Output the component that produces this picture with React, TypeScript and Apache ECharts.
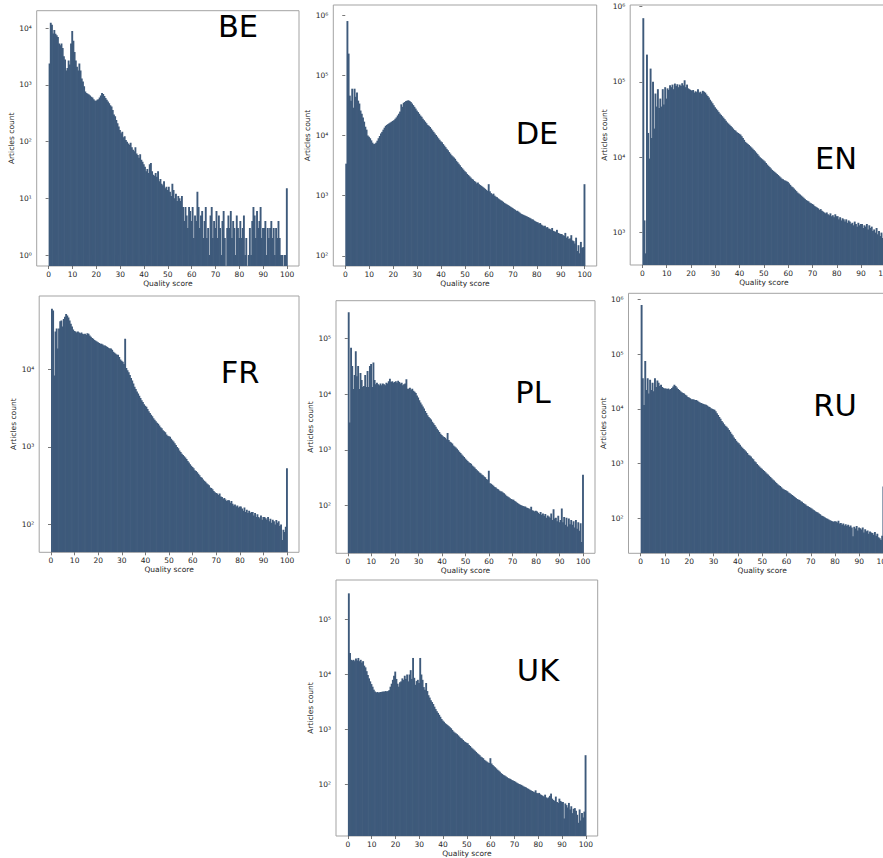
import React, { useEffect, useRef } from "react";
import * as echarts from "echarts";

// ---------- data ----------
const panelNames = ["BE", "DE", "EN", "FR", "PL", "RU", "UK"];
const xTickValues = [0, 10, 20, 30, 40, 50, 60, 70, 80, 90, 100];
const BIN_WIDTH = 0.5; // histogram bins of 0.5 quality points, 0..100

const beYTicks = [1, 10, 100, 1000, 10000];
const deYTicks = [100, 1000, 10000, 100000, 1000000];
const enYTicks = [1000, 10000, 100000, 1000000];
const frYTicks = [100, 1000, 10000];
const plYTicks = [100, 1000, 10000, 100000];
const ruYTicks = [100, 1000, 10000, 100000, 1000000];
const ukYTicks = [100, 1000, 10000, 100000];

const beCounts = [
  2400, 12500, 11500, 8100, 9300, 8000, 7500, 7000, 5400, 5000,
  5400, 4500, 3200, 2800, 1800, 2000, 2700, 2300, 5400, 8900,
  6000, 3800, 2700, 2100, 1800, 2400, 1800, 1300, 1150, 950,
  770, 720, 700, 680, 650, 620, 600, 560, 530, 520,
  550, 560, 600, 650, 720, 690, 640, 590, 550, 510,
  475, 440, 415, 360, 300, 280, 240, 210, 185, 160,
  140, 150, 120, 125, 107, 100, 93, 88, 96, 80,
  72, 68, 80, 62, 58, 52, 60, 48, 44, 40,
  36, 30, 33, 28, 40, 42, 30, 26, 25, 28,
  24, 30, 20, 22, 18, 17, 20, 15, 16, 14,
  16, 13, 11, 18, 14, 10, 12, 9, 11, 10,
  9, 11, 7, 4, 7, 5, 3, 7, 6, 4,
  7, 2, 5, 4, 13, 7, 3, 5, 6, 2,
  4, 7, 2, 3, 1, 5, 7, 2, 4, 3,
  6, 2, 5, 3, 1, 4, 6, 2, 0, 3,
  5, 3, 6, 2, 4, 3, 1, 5, 3, 2,
  4, 2, 3, 5, 1, 2, 0, 1, 3, 1,
  4, 7, 5, 2, 6, 3, 4, 7, 2, 3,
  3, 4, 1, 3, 2, 3, 4, 2, 3, 1,
  3, 2, 4, 2, 1, 1, 0, 1, 1, 15,
];

const deCounts = [
  3400, 800000, 230000, 46000, 38000, 60000, 29000, 60000, 44000, 52000,
  38000, 34000, 26000, 23000, 20000, 17000, 14000, 12500, 10000, 9500,
  9000, 8300, 7600, 7200, 7300, 7600, 8200, 9000, 9800, 10800,
  11500, 12500, 13500, 14500, 15000, 15500, 16000, 16500, 17000, 17500,
  18000, 19000, 20000, 21500, 23000, 25000, 33000, 30000, 35000, 36000,
  37500, 38000, 38500, 37500, 36000, 34000, 32000, 30000, 28000, 26000,
  24500, 23000, 21500, 20500, 19000, 18000, 17000, 16000, 15000, 14500,
  13800, 13000, 12200, 11500, 10800, 10200, 9600, 9000, 8500, 8000,
  7700, 7200, 6800, 6400, 6000, 5700, 5300, 5000, 4700, 4500,
  4300, 4100, 3800, 3600, 3400, 3200, 3000, 2850, 2700, 2550,
  2450, 2300, 2200, 2100, 2000, 1900, 1850, 1750, 1700, 1600,
  1650, 1550, 1500, 1450, 1400, 1350, 1300, 1250, 1200, 1550,
  1180, 1100, 1050, 1080, 1000, 960, 940, 900, 870, 840,
  820, 790, 760, 740, 720, 700, 680, 660, 640, 620,
  600, 580, 560, 560, 540, 520, 500, 490, 480, 470,
  460, 450, 440, 430, 420, 405, 400, 385, 375, 365,
  360, 345, 350, 330, 320, 310, 315, 295, 300, 285,
  280, 270, 290, 260, 255, 250, 270, 240, 235, 230,
  230, 220, 215, 240, 200, 210, 190, 195, 220, 180,
  175, 160, 200, 120, 150, 110, 170, 135, 140, 1550,
];

const enCounts = [
  700000, 1450, 530, 230000, 21000, 9600, 150000, 18000, 100000, 24000,
  70000, 47000, 80000, 45000, 60000, 47000, 80000, 50000, 85000, 60000,
  82000, 78000, 90000, 85000, 92000, 80000, 95000, 88000, 93000, 85000,
  92000, 88000, 96000, 90000, 105000, 85000, 92000, 82000, 80000, 78000,
  76000, 78000, 72000, 75000, 73000, 80000, 72000, 74000, 70000, 76000,
  74000, 72000, 68000, 65000, 62000, 58000, 55000, 52000, 49000, 46000,
  44000, 42000, 40000, 38000, 36500, 35000, 33500, 32000, 30500, 29000,
  28000, 27000, 26000, 25000, 24000, 23000, 22500, 21500, 21000, 20500,
  20000, 19000, 18000, 17000, 16000, 15500, 15000, 14500, 14000, 13500,
  13000, 12500, 12000, 11500, 11000, 10500, 10000, 9700, 9400, 9100,
  8800, 8400, 8000, 7700, 7400, 7100, 6800, 6600, 6400, 6200,
  6000, 5800, 5600, 5400, 5200, 5100, 4950, 4900, 4800, 4700,
  4500, 4300, 4100, 4000, 3850, 3700, 3550, 3400, 3300, 3200,
  3100, 3000, 2900, 2800, 2700, 2650, 2600, 2500, 2450, 2400,
  2350, 2250, 2200, 2150, 2100, 2000, 2050, 1950, 1900, 1850,
  1800, 1850, 1750, 1700, 1800, 1650, 1700, 1600, 1750, 1650,
  1650, 1500, 1600, 1450, 1550, 1500, 1400, 1500, 1350, 1450,
  1400, 1300, 1350, 1250, 1400, 1300, 1200, 1350, 1250, 1300,
  1300, 1150, 1250, 1200, 1300, 1100, 1250, 1150, 1200, 1050,
  1100, 1000, 1150, 950, 1050, 900, 1000, 850, 950, 3000,
];

const frCounts = [
  61000, 58000, 8400, 31000, 34000, 18700, 34000, 42000, 43000, 36000,
  45000, 48000, 52000, 50000, 47000, 43000, 39000, 36000, 33000, 31500,
  31000, 30000, 31000, 30000, 29500, 30000, 29000, 28500, 29000, 28000,
  29500, 29000, 27500, 26500, 25500, 25000, 24000, 23500, 23000, 22500,
  22000, 21500, 21500, 21000, 20500, 20500, 20000, 19500, 19000, 18700,
  18700, 18000, 17000, 16500, 16000, 15500, 15500, 14500, 13500, 13000,
  12600, 11800, 25000, 10500, 9800, 9200, 8500, 7800, 7200, 6600,
  6000, 5600, 5200, 4900, 4600, 4300, 4000, 3800, 3550, 3400,
  3300, 3100, 2900, 2750, 2600, 2500, 2350, 2250, 2150, 2050,
  2000, 1900, 1800, 1750, 1650, 1600, 1550, 1450, 1400, 1380,
  1350, 1280, 1220, 1180, 1120, 1060, 1000, 960, 900, 860,
  820, 790, 760, 730, 700, 660, 630, 600, 570, 550,
  530, 500, 490, 470, 450, 430, 410, 400, 380, 365,
  355, 340, 330, 320, 300, 295, 285, 270, 260, 255,
  250, 240, 250, 230, 225, 215, 220, 210, 200, 205,
  205, 190, 200, 185, 175, 180, 170, 175, 165, 170,
  170, 160, 150, 165, 145, 155, 140, 150, 140, 145,
  145, 130, 140, 125, 135, 125, 120, 130, 115, 125,
  125, 120, 115, 125, 110, 118, 105, 115, 110, 100,
  114, 105, 110, 95, 100, 63, 85, 80, 93, 530,
];

const plCounts = [
  297000, 3100, 68000, 32000, 12400, 22000, 59000, 21000, 32000, 12400,
  24000, 18000, 13500, 14000, 22000, 13500, 26000, 13500, 32000, 35000,
  13500, 37000, 18000, 15000, 16000, 15000, 14500, 15500, 14500, 15500,
  15000, 14500, 16000, 15500, 17000, 19000, 16500, 17000, 16000, 16500,
  17000, 16000, 17500, 16500, 15500, 16000, 14500, 15000, 15500, 18500,
  12500, 12500, 13000, 12000, 12500, 11500, 11000, 10500, 9500, 8700,
  7800, 7100, 6500, 6000, 5500, 5000, 4600, 4200, 3900, 3700,
  3500, 3200, 3000, 2800, 2600, 2400, 2250, 2100, 1950, 1850,
  1750, 1700, 1650, 1550, 2000, 1500, 1400, 1350, 1300, 1200,
  1150, 1100, 1050, 980, 920, 880, 820, 780, 740, 700,
  660, 630, 600, 580, 560, 520, 500, 480, 450, 430,
  410, 390, 380, 360, 350, 330, 320, 300, 290, 420,
  250, 245, 235, 225, 215, 210, 200, 195, 185, 180,
  178, 170, 165, 158, 150, 145, 140, 135, 130, 128,
  126, 120, 116, 112, 108, 105, 102, 100, 98, 96,
  96, 92, 90, 88, 85, 95, 82, 80, 78, 80,
  78, 74, 70, 76, 68, 72, 65, 70, 60, 66,
  63, 60, 72, 55, 85, 58, 60, 52, 65, 50,
  55, 88, 50, 62, 45, 60, 42, 58, 46, 55,
  45, 52, 40, 55, 38, 50, 35, 48, 22, 355,
];

const ruCounts = [
  790000, 36000, 11700, 75000, 22000, 36000, 19000, 34000, 22000, 30000,
  21000, 36000, 25000, 33000, 30000, 26000, 27500, 25000, 24000, 23500,
  23500, 23000, 23500, 22500, 23000, 24000, 25500, 27500, 26000, 24500,
  23000, 22000, 21000, 20000, 19500, 19000, 18000, 17500, 16500, 16000,
  15500, 15000, 15000, 14800, 14500, 14500, 14000, 13500, 13000, 12800,
  12500, 12200, 12000, 11800, 11500, 11000, 10800, 10200, 10000, 9800,
  9600, 9000, 8300, 7700, 7100, 6600, 6000, 5600, 5200, 4900,
  4700, 4400, 4100, 3800, 3500, 3300, 3000, 2800, 2600, 2450,
  2350, 2200, 2050, 1950, 1850, 1750, 1650, 1550, 1450, 1400,
  1350, 1250, 1200, 1100, 1050, 980, 930, 880, 840, 800,
  760, 730, 690, 660, 630, 600, 570, 540, 510, 490,
  465, 440, 420, 400, 390, 370, 350, 340, 330, 320,
  310, 295, 285, 275, 265, 255, 245, 235, 225, 220,
  215, 205, 200, 190, 185, 178, 170, 165, 160, 155,
  150, 145, 140, 135, 130, 128, 122, 118, 112, 110,
  107, 103, 100, 98, 95, 92, 90, 88, 86, 88,
  87, 84, 90, 80, 82, 76, 80, 74, 78, 72,
  76, 70, 74, 68, 47, 70, 65, 72, 60, 68,
  66, 62, 68, 55, 63, 58, 60, 52, 57, 55,
  54, 50, 56, 48, 52, 45, 43, 40, 48, 380,
];

const ukCounts = [
  300000, 24500, 18500, 18000, 18500, 17500, 19500, 18000, 20000, 17500,
  18500, 16500, 17500, 14500, 13500, 11500, 9800, 8500, 7500, 6700,
  6000, 5300, 4900, 4700, 4800, 4700, 4750, 4800, 4850, 4900,
  4900, 5000, 4900, 5000, 5200, 6000, 6800, 8000, 9500, 11300,
  8300, 6800, 6000, 7200, 7500, 8500, 8000, 9500, 8300, 10000,
  7500, 10000, 12000, 8300, 20000, 8700, 6500, 7600, 8000, 7000,
  20000, 10000, 8000, 5900, 5300, 7000, 5000, 4200, 3800, 3400,
  3150, 2900, 2600, 2350, 2150, 2000, 1850, 1700, 1550, 1450,
  1380, 1300, 1250, 1200, 1150, 1100, 1050, 980, 920, 880,
  850, 820, 780, 740, 700, 680, 640, 610, 590, 570,
  560, 520, 500, 470, 450, 430, 410, 390, 370, 355,
  340, 320, 310, 300, 280, 270, 260, 250, 245, 300,
  240, 225, 215, 205, 195, 185, 178, 170, 160, 155,
  148, 145, 140, 135, 130, 128, 125, 120, 118, 115,
  112, 108, 105, 102, 100, 98, 95, 92, 90, 88,
  85, 83, 80, 78, 76, 74, 72, 78, 70, 68,
  70, 66, 64, 62, 60, 65, 58, 56, 58, 62,
  68, 55, 52, 50, 60, 48, 46, 55, 50, 48,
  48, 24, 45, 42, 38, 46, 35, 40, 30, 36,
  37, 33, 28, 20, 35, 22, 30, 25, 32, 340,
];

const allCounts = [beCounts, deCounts, enCounts, frCounts, plCounts, ruCounts, ukCounts];
const allYTicks = [beYTicks, deYTicks, enYTicks, frYTicks, plYTicks, ruYTicks, ukYTicks];

// ---------- layout (pixels, axis ranges) ----------
const layout = [
  { left: 36.7, top: 10.7, width: 262.3, height: 255.3, yMin: 0.64, yMax: 20400, tx: 238, ty: 26 },
  { left: 333.3, top: 5, width: 263.4, height: 261, yMin: 67.6, yMax: 1479000, tx: 537, ty: 133 },
  { left: 630.2, top: 5, width: 267.3, height: 260, yMin: 371.5, yMax: 1047000, tx: 836, ty: 158 },
  { left: 39.2, top: 296, width: 259.8, height: 256.3, yMin: 43.6, yMax: 89100, tx: 240, ty: 372 },
  { left: 336, top: 300.7, width: 259, height: 252.6, yMin: 13.8, yMax: 478600, tx: 533, ty: 392 },
  { left: 628.5, top: 293.3, width: 267.3, height: 260, yMin: 22.9, yMax: 1288000, tx: 835, ty: 405 },
  { left: 336, top: 580, width: 261.7, height: 256, yMin: 11.5, yMax: 524800, tx: 538, ty: 670 },
];

const FONT = "DejaVu Sans";
const BAR_COLOR = "#3e5a7b";
const FRAME_COLOR = "#a3a3a3";
const TEXT_COLOR = "#262626";
const SUP = "⁰¹²³⁴⁵⁶⁷⁸⁹";

function supLabel(v: number) {
  const e = Math.round(Math.log10(v));
  const s = String(e)
    .split("")
    .map((d) => (d === "-" ? "⁻" : SUP[Number(d)]))
    .join("");
  return "10" + s;
}

export default function App() {
  const ref = useRef<HTMLDivElement>(null);

  useEffect(() => {
    if (!ref.current) return;
    const chart = echarts.init(ref.current, undefined, { renderer: "svg" });

    const renderItem = (params: any, api: any) => {
      const v = api.value(1);
      if (!(v > 0)) return null;
      const x0 = api.value(0);
      const p1 = api.coord([x0, v]);
      const p2 = api.coord([x0 + BIN_WIDTH, v]);
      const cs = params.coordSys;
      const bottom = cs.y + cs.height;
      return {
        type: "rect",
        shape: { x: p1[0], y: p1[1], width: p2[0] - p1[0] + 0.7, height: bottom - p1[1] },
        style: { fill: BAR_COLOR },
      };
    };

    const option: any = {
      animation: false,
      backgroundColor: "#ffffff",
      grid: layout.map((l) => ({
        left: l.left,
        top: l.top,
        width: l.width,
        height: l.height,
        show: true,
        borderColor: FRAME_COLOR,
        borderWidth: 1,
        backgroundColor: "transparent",
        containLabel: false,
        outerBoundsMode: "none",
      })),
      xAxis: layout.map((l, i) => ({
        gridIndex: i,
        type: "value",
        min: -5,
        max: 105,
        splitLine: { show: false },
        axisLine: { show: false },
        axisTick: { show: true, customValues: xTickValues, length: 3, lineStyle: { color: "#555", width: 0.8 } },
        axisLabel: { customValues: xTickValues, fontSize: 7.5, fontFamily: FONT, color: TEXT_COLOR, margin: 4, hideOverlap: false },
        name: "Quality score",
        nameLocation: "middle",
        nameGap: 13,
        nameTextStyle: { fontSize: 7.5, fontFamily: FONT, color: TEXT_COLOR, verticalAlign: "top" },
      })),
      yAxis: layout.map((l, i) => ({
        gridIndex: i,
        type: "log",
        logBase: 10,
        min: l.yMin,
        max: l.yMax,
        splitLine: { show: false },
        axisLine: { show: false },
        axisTick: { show: true, customValues: allYTicks[i], length: 3, lineStyle: { color: "#555", width: 0.8 } },
        axisLabel: {
          customValues: allYTicks[i],
          fontSize: 7.5,
          fontFamily: FONT,
          color: TEXT_COLOR,
          margin: 5,
          hideOverlap: false,
          showMinLabel: true,
          showMaxLabel: true,
          formatter: (v: number) => supLabel(v),
        },
        name: "Articles count",
        nameLocation: "middle",
        nameGap: 18,
        nameTextStyle: { fontSize: 7.5, fontFamily: FONT, color: TEXT_COLOR },
      })),
      series: allCounts.map((counts, i) => ({
        type: "custom",
        name: panelNames[i],
        xAxisIndex: i,
        yAxisIndex: i,
        clip: true,
        encode: { x: 0, y: 1 },
        data: counts.map((c, k) => [k * BIN_WIDTH, c]).filter((d) => d[1] > 0),
        renderItem,
      })),
      graphic: panelNames.map((name, i) => ({
        type: "text",
        x: layout[i].tx,
        y: layout[i].ty,
        z: 10,
        style: {
          text: name,
          font: `30.5px "${FONT}"`,
          fill: "#000000",
          textAlign: "center",
          textVerticalAlign: "middle",
          align: "center",
          verticalAlign: "middle",
        },
      })),
    };

    chart.setOption(option);
    return () => chart.dispose();
  }, []);

  return (
    <div
      ref={ref}
      style={{ position: "absolute", left: 0, top: 0, width: 883, height: 858, background: "#fff" }}
    />
  );
}
